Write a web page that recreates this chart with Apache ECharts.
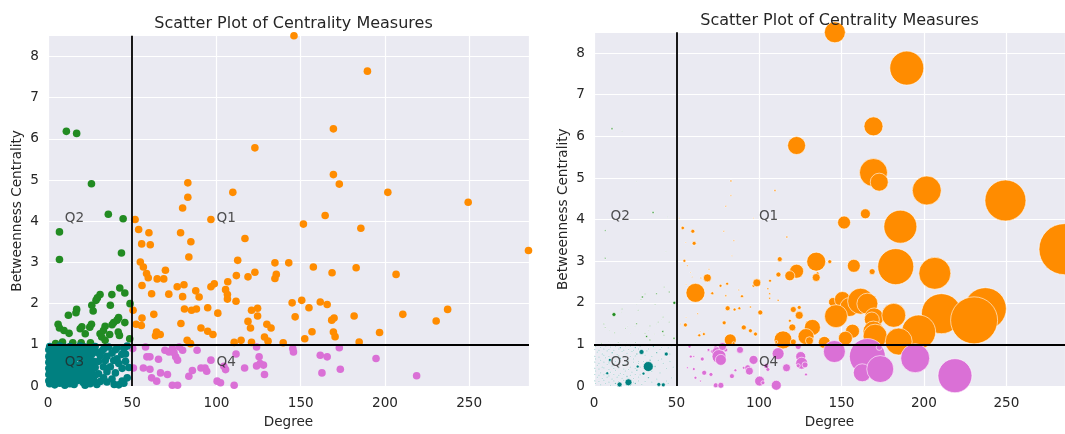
<!DOCTYPE html>
<html><head><meta charset="utf-8">
<script src="https://cdn.jsdelivr.net/npm/echarts@6/dist/echarts.min.js"></script>
<style>html,body{margin:0;padding:0;background:#fff}#c{width:1065px;height:434px}</style>
</head><body><div id="c"></div>
<script>
// ---- data: [degree, betweenness centrality, bubble size (right panel)] ----
const q1Points = [
[146,8.5,21],[189.6,7.64,34],[169.4,6.24,19],[122.8,5.78,18],[169.4,5.13,28],[172.9,4.9,18],[83,4.93,2],[83,4.58,1.5],[109.7,4.7,2],[201.7,4.7,29],[249.4,4.46,41],[79.9,4.32,1.5],[51.7,4.04,1],[96.7,4.04,1],[164.5,4.14,10],[151.6,3.93,13],[185.7,3.83,33],[53.8,3.8,3.5],[59.9,3.72,4],[78.7,3.72,1.5],[116.9,3.58,2],[84.8,3.5,1.5],[55.6,3.45,1],[60.7,3.43,4],[285.2,3.29,51],[83.6,3.13,1],[112.6,3.05,5],[54.8,3.01,3],[56.6,2.89,1.5],[134.7,2.99,19],[142.9,2.99,4],[157.5,2.89,13],[182.9,2.87,36],[168.6,2.75,6],[122.8,2.76,14],[111.8,2.68,5],[118.7,2.65,10],[135.5,2.71,3],[134.7,2.61,8],[206.6,2.71,32],[58.5,2.73,1],[59.5,2.63,1],[69.7,2.81,1.5],[64.8,2.6,1.5],[68.7,2.6,8],[55.8,2.44,1],[106.7,2.53,3],[96.7,2.41,3],[98.7,2.48,8],[76.7,2.41,3],[80.7,2.46,3],[87.7,2.31,1.5],[105.4,2.34,2],[106.5,2.22,2],[61.5,2.24,19],[71.7,2.23,3],[89.7,2.16,3],[79.9,2.17,2],[106.5,2.11,2],[111.6,2.06,2],[144.9,2.02,9],[150.6,2.08,16],[154.9,1.9,19],[161.6,2.04,26],[165.7,1.98,21],[237.2,1.86,42],[50.5,1.84,1],[81,1.87,5],[85.2,1.84,3],[88.1,1.87,3],[94.8,1.9,2],[120.8,1.84,6],[124.4,1.89,4],[100.8,1.77,5],[124.4,1.7,8],[62.8,1.74,1.5],[55.8,1.65,1],[146.7,1.68,23],[169.8,1.65,19],[168.4,1.6,15],[181.7,1.7,24],[210.6,1.74,40],[230.4,1.58,47],[118.7,1.57,3],[78.9,1.52,4],[52.3,1.5,1],[55.4,1.47,4],[129.9,1.5,6],[132.4,1.41,16],[120.2,1.41,7],[90.8,1.41,5],[94.8,1.33,4],[97.9,1.25,4],[64.4,1.31,1],[63.8,1.22,3],[66.6,1.25,3],[156.7,1.32,14],[152.4,1.15,14],[169.4,1.31,21],[170.4,1.2,24],[196.8,1.3,34],[128.5,1.19,16],[130.6,1.09,8],[114.6,1.11,18],[110.5,1.06,3],[120.8,1.06,6],[139.6,1.05,12],[184.7,1.07,27],[82.6,1.11,12],[84.6,1.03,3]
];
const q2Points = [
[10.9,6.18,2],[17,6.13,0.5],[25.8,4.91,0.5],[35.8,4.17,2],[44.6,4.06,0.5],[6.8,3.74,1.5],[43.6,3.23,0.5],[6.8,3.07,1.5],[42.6,2.38,1],[45.6,2.26,1.5],[48.7,2.0,3],[30.9,2.22,1],[29.3,2.14,2],[28.5,2.08,1],[37.9,2.22,1.5],[37,1.96,1],[26,1.96,0.5],[26.8,1.82,1],[17,1.86,1],[16.6,1.78,0.5],[12.1,1.72,4],[6,1.5,1],[39,1.54,1],[38,1.49,0.5],[41.9,1.66,1],[41,1.6,0.5],[45.6,1.54,1],[20.1,1.44,0.5],[19.1,1.39,1],[25.8,1.5,1.5],[24.8,1.43,0.5],[33.9,1.45,1],[32.9,1.35,0.5],[6.8,1.41,1],[9.5,1.35,0.5],[12.5,1.28,1],[22.1,1.27,0.5],[30.9,1.27,1],[31.9,1.19,2],[41.7,1.31,2],[42.4,1.23,1],[48.5,1.15,2],[36.6,1.25,0.5],[4.5,1.03,1],[8.6,1.07,0.5],[14.7,1.05,1],[19.7,1.05,0.5],[25.2,1.05,1],[33.9,1.11,1.5]
];
const q3Points = [
[1,0.96,1],[4,0.93,1],[7,0.97,1.5],[10,0.94,1],[13,0.96,1],[16,0.92,1.5],[19,0.97,1],[22,0.95,1],[25,0.93,1.5],[28,0.96,1],[33,0.9,1],[36,0.95,1.5],[40,0.88,1],[45,0.92,1],[47,0.97,1.5],
[0.5,0.88,1],[3,0.87,1],[6,0.9,1],[9,0.88,1],[12,0.86,1],[15,0.89,1],[18,0.87,1],[21,0.88,1],[24,0.86,1],[27,0.9,1],
[2,0.82,1],[5,0.78,1],[8,0.85,1],[11,0.8,1.5],[14,0.76,1],[17,0.83,1],[20,0.79,1],[23,0.84,1],[26,0.77,1.5],[28.8,0.82,5],[31,0.74,1],[38,0.8,1.5],[43.8,0.77,4],
[0.5,0.72,1],[3,0.7,1],[6,0.74,1],[9,0.71,1],[12,0.7,1],[15,0.73,1],[18,0.72,1],[22,0.71,1],[25,0.73,1],
[1,0.66,1],[4,0.62,1],[7,0.68,1],[9.6,0.63,3],[13,0.6,1],[16,0.67,1.5],[21,0.63,1],[24,0.66,1],[27,0.6,1],[34,0.62,1.5],[41,0.66,1],[46,0.6,1],
[0.5,0.58,1],[3,0.55,1],[6,0.58,1],[9,0.56,1],[12,0.54,1],[15,0.57,1],[20,0.56,1],[24,0.57,1],[27,0.54,1],
[2,0.5,1],[5,0.46,1],[8,0.52,1],[11,0.48,1],[18,0.5,1.5],[22,0.46,1],[26.5,0.47,3],[28,0.45,1],[32.9,0.47,10],[37,0.47,1.5],[44,0.43,1],
[0.5,0.43,1],[3,0.41,1],[6,0.44,1],[9,0.4,1],[12,0.42,1],[15,0.44,1],[18,0.41,1],[21,0.4,1],[25,0.43,1],
[1,0.36,1],[4,0.32,1],[8,0.31,3],[10,0.33,1],[13,0.38,1],[16,0.31,1],[19,0.36,1],[23,0.33,1],[26,0.38,1.5],[30,0.3,3],[35,0.35,1],[40,0.32,1],
[0.5,0.28,1],[3,0.26,1],[6,0.27,1],[9,0.25,1],[12,0.28,1],[15,0.26,1],[18,0.28,1],[22,0.26,1],[25,0.28,1],[28,0.27,1],
[2,0.21,1],[5,0.18,1],[8,0.22,1],[11,0.17,1],[14,0.22,1],[17,0.19,1],[20,0.23,1.5],[24,0.18,1],[27,0.22,1],[33,0.2,1.5],[38,0.17,1],[47,0.2,1],
[0.5,0.13,1],[3,0.11,1],[6,0.14,1],[9,0.1,1],[12,0.13,1],[15,0.11,1],[18,0.14,1],[21,0.12,1],[24,0.1,1],[27,0.13,1],[31,0.11,1],
[1,0.06,1],[4,0.03,1],[7,0.07,1],[10,0.02,1],[13,0.06,1.5],[15.5,0.04,5],[20.9,0.09,7],[22,0.02,1],[25,0.06,1.5],[29,0.04,1],[39.3,0.04,4],[42,0.03,4],[45,0.07,1],
[32,0.85,1],[35,0.72,1],[42,0.55,1],[46,0.78,1],[30,0.6,1],[39,0.62,1],[44,0.12,1],[35,0.1,1],[48,0.45,1],[41,0.93,1]
];
const q4Points = [
[50.3,0.91,1],[57.9,0.95,3],[58.7,0.71,3],[60.5,0.71,2],[50.7,0.44,1],[56.6,0.44,2],[60.5,0.41,3],[61.5,0.2,3],[64.5,0.12,2],[65.6,0.65,4],[66.8,0.32,5],[70.9,0.28,4],[69.4,0.87,3],[71.8,0.83,4],[73.8,0.91,5],[74.8,0.81,11],[75.8,0.71,14],[76.9,0.63,11],[79.9,0.87,4],[77.9,0.95,8],[83.6,0.24,5],[85.7,0.38,3],[88.5,0.87,7],[90.8,0.44,3],[93.2,0.44,6],[94.2,0.36,8],[96.7,0.63,9],[100.4,0.12,10],[102.4,0.08,4],[104.4,0.48,5],[105.4,0.4,4],[111.6,0.78,12],[116.7,0.44,8],[123.8,0.95,6],[125.3,0.71,10],[125.9,0.55,12],[123.8,0.49,4],[127.9,0.51,6],[128.5,0.28,3],[110.5,0.02,10],[73.8,0.02,5],[76.9,0.02,6],[145.3,0.91,14],[145.7,0.83,22],[161.6,0.75,16],[165.7,0.71,36],[162.6,0.32,18],[172.9,0.93,6],[173.5,0.41,27],[194.7,0.67,29],[218.8,0.25,34]
];
const degreeTicks = {min: 0, max: 285.5, interval: 50};
const betweennessTicks = {min: 0, max: 8.5, interval: 1};
const degreeThreshold = 50;
const betweennessThreshold = 1;
const quadrantLabels = [['Q1',100,4],['Q2',10,4],['Q3',10,0.5],['Q4',100,0.5]];
const titleText = 'Scatter Plot of Centrality Measures';
const xName = 'Degree';
const yName = 'Betweenness Centrality';

// ---- styling ----
const FONT = 'DejaVu Sans';
const TXT = '#262626';
const FS = 13.6;
const quadColors = {Q1:'#FF8C00', Q2:'#228B22', Q3:'#008080', Q4:'#DA70D6'};
const grids = [
  {left: 48, top: 35.7, width: 481, height: 357.6, show: true, backgroundColor: '#EAEAF2', borderWidth: 0},
  {left: 594, top: 32.3, width: 481, height: 361, show: true, backgroundColor: '#EAEAF2', borderWidth: 0}
];
function xAxis(i){
  return {gridIndex:i, type:'value', min:degreeTicks.min, max:degreeTicks.max, interval:degreeTicks.interval,
    name:xName, nameLocation:'middle', nameGap:27, nameTextStyle:{fontSize:FS,color:TXT,fontFamily:FONT},
    axisLine:{show:false}, axisTick:{show:false},
    axisLabel:{fontSize:FS,color:TXT,fontFamily:FONT,margin:10,showMaxLabel:false},
    splitLine:{show:true,lineStyle:{color:'#ffffff',width:1.2}}};
}
function yAxis(i){
  return {gridIndex:i, type:'value', min:betweennessTicks.min, max:betweennessTicks.max, interval:betweennessTicks.interval,
    name:yName, nameLocation:'middle', nameGap:24, nameTextStyle:{fontSize:FS,color:TXT,fontFamily:FONT},
    axisLine:{show:false}, axisTick:{show:false},
    axisLabel:{fontSize:FS,color:TXT,fontFamily:FONT,margin:9,showMaxLabel:false},
    splitLine:{show:true,lineStyle:{color:'#ffffff',width:1.2}}};
}
const quadData = {Q1:q1Points, Q4:q4Points, Q2:q2Points, Q3:q3Points};
const series = [];
[0,1].forEach(function(g){
  ['Q1','Q4','Q2','Q3'].forEach(function(q){
    series.push({
      type:'scatter', xAxisIndex:g, yAxisIndex:g, clip:true, silent:true, z:2,
      data: quadData[q],
      symbolSize: g===0 ? 7.6 : function(v){ return v[2]; },
      itemStyle: g===0 ? {color:quadColors[q], opacity:1} : {color:quadColors[q], borderColor:'rgba(255,255,255,0.85)', borderWidth:0.7, opacity:1}
    });
  });
  series.push({
    type:'scatter', xAxisIndex:g, yAxisIndex:g, z:5, silent:true, clip:false,
    symbolSize: 0.1, itemStyle:{color:'rgba(0,0,0,0)'},
    data: quadrantLabels.map(function(l){ return {name:l[0], value:[l[1], l[2]]}; }),
    label:{show:true, formatter:'{b}', position:[0,0], align:'left', verticalAlign:'bottom', offset:[0,4],
      fontSize:FS, color:TXT, fontFamily:FONT},
    markLine:{silent:true, symbol:'none', label:{show:false}, animation:false,
      lineStyle:{color:'#000000', width:1.8, type:'solid'},
      data:[{xAxis:degreeThreshold},{yAxis:betweennessThreshold}]}
  });
});
const chart = echarts.init(document.getElementById('c'), null, {renderer:'canvas'});
chart.setOption({
  animation:false,
  backgroundColor:'#ffffff',
  title:[
    {text:titleText, left:288.5, top:11, textAlign:'center', textStyle:{fontSize:16,fontWeight:'normal',color:TXT,fontFamily:FONT}},
    {text:titleText, left:834.5, top:7.5, textAlign:'center', textStyle:{fontSize:16,fontWeight:'normal',color:TXT,fontFamily:FONT}}
  ],
  grid: grids,
  xAxis:[xAxis(0), xAxis(1)],
  yAxis:[yAxis(0), yAxis(1)],
  series: series
});
</script></body></html>
